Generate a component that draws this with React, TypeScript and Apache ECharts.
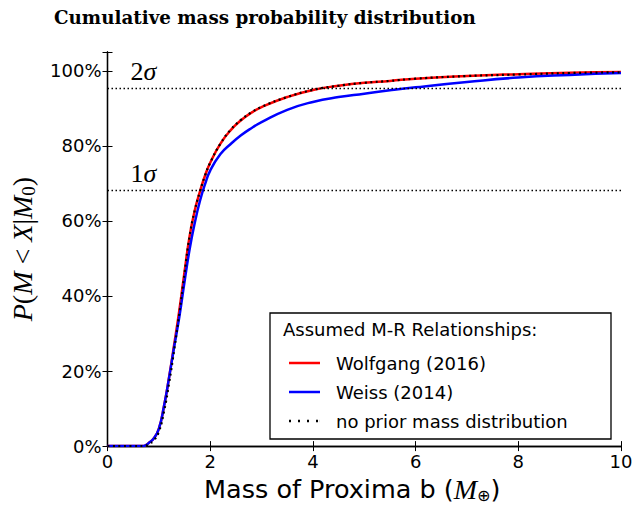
import React, { useEffect, useRef } from "react";
import * as echarts from "echarts";

const mass = [0, 0.5, 0.7, 0.75, 0.8, 0.9, 1.0, 1.1, 1.2, 1.3, 1.4, 1.5, 1.6, 1.7, 1.8, 1.9, 2.0, 2.2, 2.4, 2.6, 2.8, 3.0, 3.5, 4.0, 4.5, 5.0, 5.5, 6.0, 7.0, 8.0, 9.0, 10.0];
const wolfgang = [0, 0, 0, 0.3, 0.8, 2.0, 4.6, 10.6, 18.4, 27.2, 36.3, 46.4, 56.0, 62.8, 67.8, 72.1, 75.5, 80.6, 84.2, 86.8, 88.8, 90.3, 93.0, 94.9, 96.0, 96.8, 97.3, 97.9, 98.6, 99.1, 99.5, 99.7];
const weiss = [0, 0, 0, 0.3, 0.8, 2.0, 4.6, 10.6, 18.3, 26.6, 34.5, 43.8, 52.5, 59.5, 65.3, 69.8, 73.4, 77.8, 80.5, 82.8, 84.7, 86.3, 89.6, 91.7, 93.0, 93.9, 94.8, 95.6, 97.0, 98.2, 98.9, 99.4];
const noPrior = [0, 0, 0, 0.1, 0.5, 1.5, 3.8, 9.2, 16.8, 25.8, 35.5, 46.0, 56.0, 62.8, 67.8, 72.1, 75.5, 80.6, 84.3, 86.9, 88.9, 90.4, 93.0, 94.9, 96.0, 96.8, 97.3, 97.9, 98.6, 99.0, 99.4, 99.6];
const sigmaLevels = [68.27, 95.45];
const sigmaLabels = ["1", "2"];
const seriesNames = ["Wolfgang (2016)", "Weiss (2014)", "no prior mass distribution"];
const legendTitle = "Assumed M-R Relationships:";
const titleText = "Cumulative mass probability distribution";

const pairs = (ys: number[]) => mass.map((m, i) => [m, ys[i]]);

const solidIcon = "path://M0,0H31V2.5H0Z";
const dottedIcon = "path://M0,0H2V2.5H0Z M9,0H11V2.5H9Z M18,0H20V2.5H18Z M27,0H29V2.5H27Z M30.9,0H31V2.5H30.9Z";

export default function App() {
  const ref = useRef<HTMLDivElement>(null);
  useEffect(() => {
    if (!ref.current) return;
    const chart = echarts.init(ref.current, null, { renderer: "svg" });
    const tickStyle = { show: true, inside: true, length: 5, lineStyle: { color: "#000", width: 1 } };
    const axisLine = { show: true, lineStyle: { color: "#000", width: 1.3 } };
    chart.setOption({
      animation: false,
      backgroundColor: "#fff",
      title: {
        text: titleText,
        left: 49,
        top: 3,
        textStyle: { fontFamily: "DejaVu Serif", fontWeight: "bold", fontSize: 18.3, color: "#000" },
      },
      grid: { left: 107, right: 15, top: 52, bottom: 58 },
      xAxis: [
        {
          type: "value",
          min: 0,
          max: 10,
          interval: 2,
          position: "bottom",
          axisLine,
          axisTick: tickStyle,
          splitLine: { show: false },
          axisLabel: { fontFamily: "DejaVu Sans", fontSize: 18, color: "#000", margin: 6 },
          name: "{t|Mass of Proxima b (}{m|M}{s|⊕}{t|)}",
          nameLocation: "middle",
          nameGap: 28,
          nameTextStyle: {
            padding: [0, 24, 0, 0],
            rich: {
              t: { fontFamily: "DejaVu Sans", fontSize: 25.5, color: "#000" },
              m: { fontFamily: "Liberation Serif", fontStyle: "italic", fontSize: 28, color: "#000" },
              s: { fontFamily: "DejaVu Sans", fontSize: 16, color: "#000", verticalAlign: "bottom", padding: [10, 0, 0, 0] },
            },
          },
        },
        {
          type: "value",
          min: 0,
          max: 10,
          interval: 2,
          position: "top",
          axisLine,
          axisTick: tickStyle,
          axisLabel: { show: false },
          splitLine: { show: false },
        },
      ],
      yAxis: [
        {
          type: "value",
          min: 0,
          max: 105,
          interval: 20,
          position: "left",
          axisLine,
          axisTick: tickStyle,
          splitLine: { show: false },
          axisLabel: {
            fontFamily: "DejaVu Sans",
            fontSize: 18,
            color: "#000",
            margin: 6,
            formatter: (v: number) => (v % 20 === 0 ? v + "%" : ""),
          },
          name: "{i|P}{t|(}{i|M}{t| < }{i|X}{t||}{i|M}{s|0}{t|)}",
          nameLocation: "middle",
          nameGap: 70,
          nameRotate: 90,
          nameTextStyle: {
            rich: {
              i: { fontFamily: "Liberation Serif", fontStyle: "italic", fontSize: 28, color: "#000" },
              t: { fontFamily: "Liberation Serif", fontSize: 28, color: "#000" },
              s: { fontFamily: "Liberation Serif", fontSize: 19, color: "#000", verticalAlign: "bottom", padding: [12, 0, 0, 0] },
            },
          },
        },
        {
          type: "value",
          min: 0,
          max: 105,
          interval: 20,
          position: "right",
          axisLine,
          axisTick: tickStyle,
          axisLabel: { show: false },
          splitLine: { show: false },
        },
      ],
      legend: {
        orient: "vertical",
        left: 284,
        top: 347,
        itemWidth: 31,
        itemHeight: 2.5,
        itemGap: 7,
        z: 10,
        data: [
          { name: seriesNames[0], icon: solidIcon, itemStyle: { color: "#ff0000" } },
          { name: seriesNames[1], icon: solidIcon, itemStyle: { color: "#0000ff" } },
          { name: seriesNames[2], icon: dottedIcon, itemStyle: { color: "#000" } },
        ],
        textStyle: { fontFamily: "DejaVu Sans", fontSize: 18, lineHeight: 22, color: "#000", padding: [0, 0, 0, 11] },
      },
      graphic: [
        {
          type: "rect",
          z: 8,
          shape: { x: 270, y: 313, width: 341, height: 126 },
          style: { fill: "#fff", stroke: "#000", lineWidth: 1.3 },
        },
        {
          type: "text",
          z: 9,
          x: 283,
          y: 320,
          style: { text: legendTitle, fontFamily: "DejaVu Sans", fontSize: 18, fill: "#000" },
        },
      ],
      series: [
        {
          name: "sigma",
          type: "line",
          data: [],
          markLine: {
            symbol: "none",
            silent: true,
            lineStyle: { color: "#000", type: [1.5, 2.5], width: 1.3 },
            label: {
              show: true,
              position: "insideStartTop",
              distance: [23, 3],
            },
            data: sigmaLevels.map((v, i) => ({
              yAxis: v,
              label: {
                formatter: `{n|${sigmaLabels[i]}}{g|σ}`,
                rich: {
                  n: { fontFamily: "Liberation Serif", fontSize: 26, color: "#000" },
                  g: { fontFamily: "Liberation Serif", fontStyle: "italic", fontSize: 26, color: "#000" },
                },
              },
            })),
          },
        },
        {
          name: seriesNames[0],
          type: "line",
          data: pairs(wolfgang),
          smooth: 0.5,
          symbol: "none",
          lineStyle: { color: "#ff0000", width: 2.5 },
          itemStyle: { color: "#ff0000" },
          z: 3,
        },
        {
          name: seriesNames[1],
          type: "line",
          data: pairs(weiss),
          smooth: 0.5,
          symbol: "none",
          lineStyle: { color: "#0000ff", width: 2.5 },
          itemStyle: { color: "#0000ff" },
          z: 4,
        },
        {
          name: seriesNames[2],
          type: "line",
          data: pairs(noPrior),
          smooth: 0.5,
          symbol: "none",
          lineStyle: { color: "#000", width: 2.2, type: [2, 3.5] },
          itemStyle: { color: "#000" },
          z: 5,
        },
      ],
    });
    return () => chart.dispose();
  }, []);
  return <div ref={ref} style={{ position: "fixed", left: 0, top: 0, width: 636, height: 508 }} />;
}
